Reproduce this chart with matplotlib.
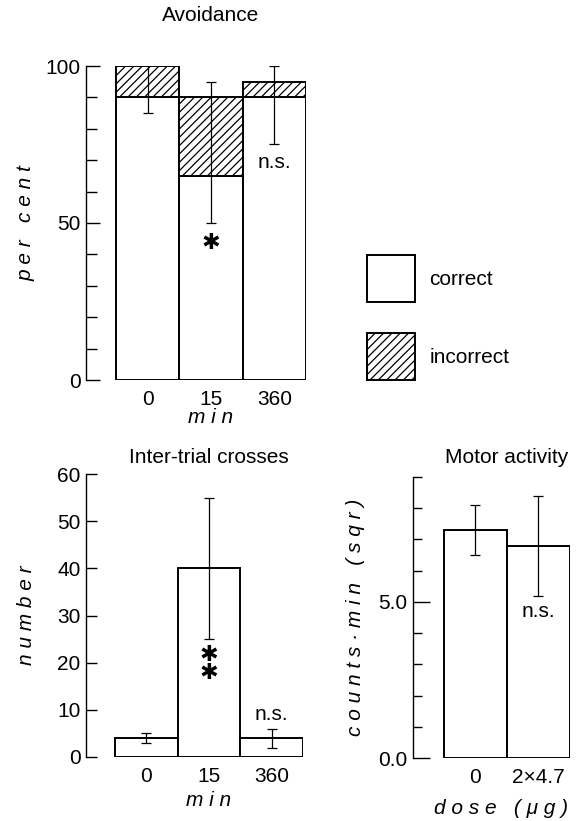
import matplotlib
matplotlib.use('Agg')
import matplotlib.pyplot as plt
import matplotlib.transforms as mtransforms
from matplotlib.patches import Patch

plt.rcParams['font.family'] = ['Liberation Sans', 'DejaVu Sans']
plt.rcParams['font.size'] = 15
plt.rcParams['hatch.linewidth'] = 0.9

# Avoidance (per cent)
avoid_times = ['0', '15', '360']
avoid_correct = [90, 65, 90]
avoid_incorrect = [10, 25, 5]
avoid_err_low = [5, 15, 15]     # below the correct part
avoid_err_high = [5, 5, 5]      # above the total

# Inter-trial crosses (number)
iti_times = ['0', '15', '360']
iti_mean = [4, 40, 4]
iti_err = [1, 15, 2]

# Motor activity (counts/min, sqr)
motor_doses = ['0', '2\u00d74.7']
motor_mean = [7.3, 6.8]
motor_err = [0.8, 1.6]

fig = plt.figure(figsize=(5.8, 8.21), dpi=100)

bar_kw = dict(width=1.0, facecolor='white', edgecolor='black', linewidth=1.4)
err_kw = dict(fmt='none', ecolor='black', elinewidth=0.9, capsize=3.6, capthick=0.9, zorder=5)


def style_axis(ax, ymax):
    for s in ['top', 'right', 'bottom']:
        ax.spines[s].set_visible(False)
    ax.spines['left'].set_bounds(0, ymax)
    ax.spines['left'].set_linewidth(1.0)
    ax.tick_params(axis='x', length=0, pad=7)
    ax.tick_params(axis='y', which='both', direction='in', width=1.0, pad=4)


def label_text(ax, x, y, s, **kw):
    tr = mtransforms.blended_transform_factory(ax.transData, ax.transAxes)
    ax.text(x, y, s, transform=tr, ha='center', va='center', **kw)


# ---- Avoidance ----
ax1 = fig.add_axes([86 / 580, 1 - 380 / 821, 220 / 580, 314 / 821])
x1 = list(range(len(avoid_times)))
ax1.bar(x1, avoid_correct, **bar_kw)
ax1.bar(x1, avoid_incorrect, bottom=avoid_correct, hatch='////', **bar_kw)
up1 = [inc + e for inc, e in zip(avoid_incorrect, avoid_err_high)]
ax1.errorbar(x1, avoid_correct, yerr=[avoid_err_low, up1], **err_kw)
ax1.set_xlim(-0.974, 2.5)
ax1.set_ylim(0, 100)
ax1.set_yticks([0, 50, 100])
ax1.set_yticks(range(0, 101, 10), minor=True)
style_axis(ax1, 100)
ax1.tick_params(axis='y', which='major', length=10)
ax1.tick_params(axis='y', which='minor', length=8)
ax1.set_xticks(x1)
ax1.set_xticklabels(avoid_times)
label_text(ax1, 1, 1.161, 'Avoidance')
label_text(ax1, 1, -0.118, 'm i n', style='italic')
ax1.text(-0.273, 0.5, 'p e r   c e n t', transform=ax1.transAxes, rotation=90,
         ha='center', va='center', style='italic')
ax1.text(1, 43.6, '\u2731', ha='center', va='center', fontsize=16, family='DejaVu Sans')
ax1.text(2, 69.4, 'n.s.', ha='center', va='center')

# legend
handles = [Patch(facecolor='white', edgecolor='black', linewidth=1.4),
           Patch(facecolor='white', edgecolor='black', linewidth=1.4, hatch='////')]
fig.legend(handles, ['correct', 'incorrect'], loc='upper left',
           bbox_to_anchor=(367 / 580, 1 - 255 / 821), frameon=False,
           borderpad=0, borderaxespad=0, handlelength=2.3, handleheight=3.1,
           labelspacing=1.5, handletextpad=0.7)

# ---- Inter-trial crosses ----
ax2 = fig.add_axes([86 / 580, 1 - 757 / 821, 217 / 580, 283 / 821])
x2 = list(range(len(iti_times)))
ax2.bar(x2, iti_mean, **bar_kw)
ax2.errorbar(x2, iti_mean, yerr=iti_err, **err_kw)
ax2.set_xlim(-0.963, 2.5)
ax2.set_ylim(0, 60)
ax2.set_yticks(range(0, 61, 10))
style_axis(ax2, 60)
ax2.tick_params(axis='y', length=8)
ax2.set_xticks(x2)
ax2.set_xticklabels(iti_times)
label_text(ax2, 1, 1.060, 'Inter-trial crosses')
label_text(ax2, 1, -0.152, 'm i n', style='italic')
ax2.text(-0.276, 0.5, 'n u m b e r', transform=ax2.transAxes, rotation=90,
         ha='center', va='center', style='italic')
ax2.text(1, 19.7, '\u2731\n\u2731', ha='center', va='center', fontsize=16,
         family='DejaVu Sans', linespacing=0.85)
ax2.text(2, 9.0, 'n.s.', ha='center', va='center')

# ---- Motor activity ----
ax3 = fig.add_axes([413 / 580, 1 - 758 / 821, 157 / 580, 281 / 821])
x3 = list(range(len(motor_doses)))
ax3.bar(x3, motor_mean, **bar_kw)
ax3.errorbar(x3, motor_mean, yerr=motor_err, **err_kw)
ax3.set_xlim(-0.992, 1.5)
ax3.set_ylim(0, 9)
ax3.set_yticks([0, 5])
ax3.set_yticklabels(['0.0', '5.0'])
ax3.set_yticks(range(0, 10), minor=True)
style_axis(ax3, 9)
ax3.tick_params(axis='y', which='major', length=12)
ax3.tick_params(axis='y', which='minor', length=6.5)
ax3.set_xticks(x3)
ax3.set_xticklabels(motor_doses)
label_text(ax3, 0.5, 1.068, 'Motor activity')
label_text(ax3, 0.4, -0.178, 'd o s e   ( \u03bc g )', style='italic')
ax3.text(-0.369, 0.5, 'c o u n t s \u00b7 m i n   ( s q r )', transform=ax3.transAxes,
         rotation=90, ha='center', va='center', style='italic')
ax3.text(1, 4.68, 'n.s.', ha='center', va='center')

fig.savefig('out.png', dpi=100)
